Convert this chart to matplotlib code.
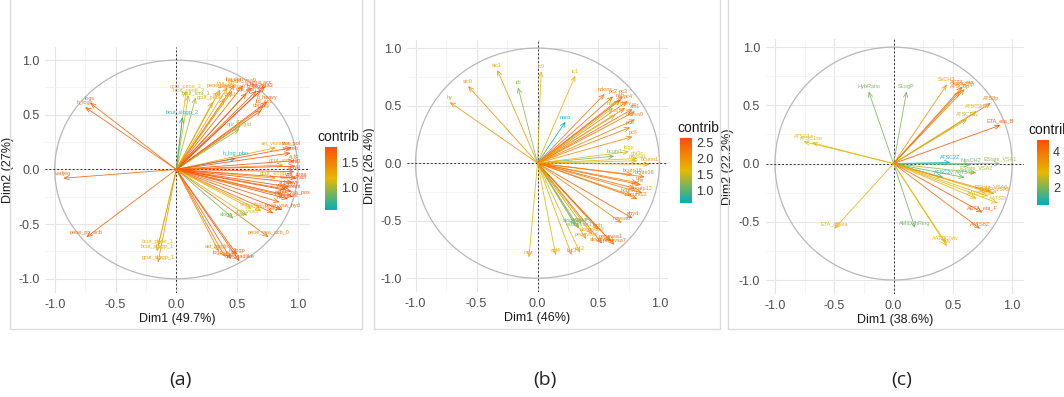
import numpy as np
import matplotlib
matplotlib.use("Agg")
import matplotlib.pyplot as plt
from matplotlib.colors import LinearSegmentedColormap, Normalize
from matplotlib.cm import ScalarMappable
from matplotlib.patches import Rectangle

plt.rcParams['font.family'] = ['Liberation Sans', 'DejaVu Sans']

# ---------------- data: panel (a) ----------------
names_a = ["gcut_peoe_2", "bcut_peoe_3", "bcut_smr_1", "bcut_slogp_2", "lip_don", "slogp_vsa9",
           "peoe_vsa6", "vsa_acc", "a_nN", "b_1rotN", "smr_vsa3", "a_acc", "vsa_don", "slogp_vsa3",
           "lip_acc", "density", "apol", "opr_brigid", "h_log_pbo", "ast_violation", "vsa_pol",
           "zagreb", "a_ic", "gcut_smr_1", "chi0", "a_nH", "gcut_slogp_3", "vsa_area", "weinerPath",
           "a_heavy", "vdw_vol", "a_count", "peoe_vsa_pos", "b_count", "chi1", "mr", "peoe_vsa_hyd",
           "weight", "bpol", "vsa_other", "slogp_vsa4", "smr_vsa5", "peoe_vsa_acb_0", "logp_o_w",
           "slogp", "h_logp", "opr_leadlike", "ast_fraglike", "bcut_peoe_1", "bcut_slogp_1",
           "gcut_slogp_1", "h_logs", "logs", "vadjeq", "peoe_pc_acb", "gcut_peoe_0", "smr_vsa1",
           "b_heavy"]
dim1_a = [0.08, 0.10, 0.16, 0.05, 0.48, 0.55, 0.36, 0.42, 0.62, 0.66, 0.70, 0.73, 0.58, 0.46,
          0.72, 0.70, 0.53, 0.52, 0.49, 0.82, 0.95, 0.94, 0.97, 0.88, 0.98, 0.97, 0.82, 0.99, 0.96,
          0.93, 0.90, 0.95, 0.96, 0.92, 0.88, 0.85, 0.87, 0.80, 0.70, 0.62, 0.47, 0.58, 0.76, 0.40,
          0.45, 0.50, 0.52, 0.35, -0.15, -0.16, -0.15, -0.75, -0.71, -0.93, -0.74, 0.30, 0.40, 0.75]
dim2_a = [0.72, 0.68, 0.66, 0.48, 0.78, 0.77, 0.73, 0.75, 0.75, 0.72, 0.73, 0.76, 0.70, 0.72,
          0.58, 0.54, 0.40, 0.37, 0.10, 0.20, 0.20, 0.15, 0.08, 0.04, 0.03, -0.02, -0.08, -0.08,
          -0.12, -0.16, -0.18, -0.20, -0.25, -0.27, -0.24, -0.30, -0.37, -0.40, -0.38, -0.36, -0.45,
          -0.42, -0.62, -0.80, -0.82, -0.78, -0.84, -0.75, -0.70, -0.75, -0.85, 0.57, 0.61, -0.08,
          -0.62, 0.62, 0.65, 0.62]
contrib_a = [1.2, 1.1, 1.0, 0.6, 1.6, 1.7, 1.4, 1.3, 1.8, 1.8, 1.8, 1.9, 1.7, 1.5, 1.7, 1.7,
             1.0, 1.0, 0.6, 1.3, 1.8, 1.8, 1.8, 1.4, 1.9, 1.9, 1.3, 1.9, 1.8, 1.9, 1.7, 1.8, 1.9,
             1.8, 1.6, 1.7, 1.8, 1.7, 1.3, 1.2, 0.9, 1.1, 1.6, 1.6, 1.7, 1.7, 1.8, 1.5, 1.2, 1.3,
             1.4, 1.7, 1.7, 1.7, 1.7, 1.3, 1.4, 1.8]

# ---------------- data: panel (b) ----------------
names_b = ["hy", "sic0", "sic1", "idi", "ic0", "ic1", "naro", "ndonr", "pc2", "pc3", "nsb", "pc4",
           "naccr", "nhev", "w", "zm1", "ncarb", "mrvsa9", "pc5", "pc6", "bcutv1", "chi3c", "bcutm1",
           "logp", "bcutp16", "bcute16", "ui", "mr", "pol", "bcutm12", "bcutv12", "bcutp12", "nhyd",
           "mrvsa6", "slogpvsa7", "estatevsa3", "mrvsa4", "slogpvsa1", "peoevsa1", "peoevsa7",
           "cic3", "bic3", "cic4", "mpc", "slogpvsa2", "tsch", "peoevsa6", "mrvsa1"]
dim1_b = [-0.72, -0.57, -0.33, -0.16, 0.03, 0.31, 0.23, 0.55, 0.62, 0.70, 0.68, 0.74, 0.62, 0.72,
          0.78, 0.80, 0.64, 0.80, 0.76, 0.78, 0.63, 0.82, 0.92, 0.75, 0.78, 0.88, 0.82, 0.85, 0.80,
          0.77, 0.82, 0.86, 0.78, 0.69, 0.31, 0.34, 0.36, 0.53, 0.60, 0.63, 0.35, 0.28, 0.15, -0.07,
          0.45, 0.50, 0.40, 0.82]
dim2_b = [0.53, 0.67, 0.81, 0.66, 0.80, 0.76, 0.36, 0.60, 0.58, 0.58, 0.55, 0.54, 0.48, 0.48,
          0.47, 0.45, 0.42, 0.38, 0.31, 0.23, 0.06, 0.04, -0.01, 0.10, -0.10, -0.12, -0.17, -0.19,
          -0.22, -0.28, -0.31, -0.26, -0.48, -0.52, -0.54, -0.57, -0.53, -0.70, -0.68, -0.71, -0.78,
          -0.80, -0.80, -0.82, -0.62, -0.58, -0.66, 0.02]
contrib_b = [2.0, 2.0, 1.9, 1.2, 1.7, 1.7, 0.6, 2.3, 2.4, 2.4, 2.5, 2.3, 1.5, 2.2, 2.4, 2.3, 1.6,
             2.2, 2.2, 2.1, 1.1, 1.6, 2.0, 1.6, 2.2, 2.3, 2.2, 2.3, 2.4, 2.2, 2.3, 2.2, 2.5, 2.1,
             1.0, 1.1, 1.2, 2.4, 2.5, 2.4, 1.7, 1.8, 1.7, 1.7, 1.9, 2.2, 1.8, 1.7]

# ---------------- data: panel (c) ----------------
names_c = ["HybRatio", "SLogP", "ATSC1z", "ATSC1se", "ETA_dBeta", "AETA_eta", "SsCH3", "ATSC8p",
           "ATSC6p", "ATS8p", "ATSC1dv", "ETA_eta_B", "ATSC3dv", "ATSC2Z", "NssCH2", "EState_VSA1",
           "EState_VSA2", "AATS3p", "ATSC2v", "EState_VSA6", "SlogP_VSA5", "AATS3i", "AATS3r",
           "AATS2i", "AETA_eta_F", "AATS8Z", "AMID_hRing", "AATSC0dv", "Mv"]
dim1_c = [-0.21, 0.11, -0.76, -0.69, -0.50, 0.58, 0.45, 0.60, 0.56, 0.82, 0.62, 0.90, 0.70, 0.48,
          0.65, 0.90, 0.70, 0.60, 0.42, 0.82, 0.85, 0.80, 0.70, 0.88, 0.75, 0.73, 0.18, 0.44, 0.45]
dim2_c = [0.62, 0.62, 0.19, 0.18, -0.56, 0.66, 0.68, 0.64, 0.62, 0.52, 0.38, 0.33, 0.45, 0.01,
          -0.01, 0.00, -0.08, -0.12, -0.12, -0.24, -0.26, -0.28, -0.30, -0.34, -0.42, -0.56, -0.55,
          -0.68, -0.71]
contrib_c = [2.0, 2.0, 2.8, 2.8, 3.0, 4.3, 3.5, 3.8, 4.1, 4.0, 2.5, 4.6, 3.0, 1.1, 1.8, 2.2, 2.3,
             1.8, 1.3, 3.5, 3.3, 3.0, 3.0, 2.8, 4.4, 4.2, 1.9, 2.9, 2.9]

panel_tags = ["(a)", "(b)", "(c)"]
dim1_titles = ["Dim1 (49.7%)", "Dim1 (46%)", "Dim1 (38.6%)"]
dim2_titles = ["Dim2 (27%)", "Dim2 (26.4%)", "Dim2 (22.2%)"]
cbar_ticks = [[1.0, 1.5], [1.0, 1.5, 2.0, 2.5], [2, 3, 4]]
cbar_ranges = [(0.55, 1.82), (0.6, 2.65), (1.05, 4.65)]

# ---------------- layout (pixels) ----------------
W, H = 1064, 397
fig = plt.figure(figsize=(W / 100, H / 100), dpi=100)
fig.patch.set_facecolor("white")

def rect(l, t, r, b):
    return [l / W, 1 - b / H, (r - l) / W, (b - t) / H]

ax_boxes = [rect(45, 47, 310, 293), rect(407, 40, 668, 292), rect(765.5, 39, 1024, 294)]
xlims = [(-1.08, 1.1), (-1.07, 1.07), (-1.08, 1.1)]
ylims = [(-1.13, 1.12), (-1.12, 1.07), (-1.12, 1.07)]
cb_boxes = [rect(325, 147, 337, 210), rect(680, 138, 692, 203), rect(1037, 140, 1049, 205)]
cb_title_xy = [(317, 137), (677, 128), (1028, 130)]
ylabel_x = [17, 378, 733]
tag_x = [180, 545, 902]
frames = [(10, 362), (374, 720), (728, 1070)]

cmap = LinearSegmentedColormap.from_list("fviz", ["#00AFBB", "#E7B800", "#FC4E07"])

# panel frames
for (l, r) in frames:
    fig.add_artist(Rectangle((l / W, 1 - 329 / H), (r - l) / W, 340 / H,
                             transform=fig.transFigure, fill=False,
                             edgecolor="#DADADA", lw=1.0))

datasets = [(names_a, dim1_a, dim2_a, contrib_a),
            (names_b, dim1_b, dim2_b, contrib_b),
            (names_c, dim1_c, dim2_c, contrib_c)]

theta = np.linspace(0, 2 * np.pi, 400)
for i, (names, d1, d2, ctb) in enumerate(datasets):
    ax = fig.add_axes(ax_boxes[i])
    ax.set_xlim(*xlims[i])
    ax.set_ylim(*ylims[i])
    ax.set_xticks([-1.0, -0.5, 0.0, 0.5, 1.0])
    ax.set_yticks([-1.0, -0.5, 0.0, 0.5, 1.0])
    ax.set_xticks([-0.75, -0.25, 0.25, 0.75], minor=True)
    ax.set_yticks([-0.75, -0.25, 0.25, 0.75], minor=True)
    ax.set_xticklabels(["-1.0", "-0.5", "0.0", "0.5", "1.0"])
    ax.set_yticklabels(["-1.0", "-0.5", "0.0", "0.5", "1.0"])
    ax.grid(which="major", color="#E6E6E6", lw=0.8)
    ax.grid(which="minor", color="#F2F2F2", lw=0.5)
    ax.set_axisbelow(True)
    for s in ax.spines.values():
        s.set_visible(False)
    ax.tick_params(which="both", length=0, labelsize=9, labelcolor="#4D4D4D", pad=4)
    ax.set_xlabel(dim1_titles[i], fontsize=9, color="#1A1A1A", labelpad=2)
    ax.set_ylabel(dim2_titles[i], fontsize=9, color="#1A1A1A", labelpad=3)

    ax.plot(np.cos(theta), np.sin(theta), color="#B8B8B8", lw=0.9, zorder=1)
    ax.axhline(0, color="#333333", lw=0.7, ls=(0, (2, 2)), zorder=2)
    ax.axvline(0, color="#333333", lw=0.7, ls=(0, (2, 2)), zorder=2)

    vmin, vmax = cbar_ranges[i]
    norm = Normalize(vmin=vmin, vmax=vmax)
    for n, x, y, c in zip(names, d1, d2, ctb):
        col = cmap(norm(c))
        ax.annotate("", xy=(x, y), xytext=(0, 0),
                    arrowprops=dict(arrowstyle="->,head_length=0.35,head_width=0.15",
                                    color=col, lw=0.6, shrinkA=0, shrinkB=0,
                                    alpha=0.9),
                    zorder=3)
        ax.annotate(n, xy=(x, y), xytext=(0, 1.5), textcoords="offset points",
                    ha="center", va="bottom", fontsize=4, color=col, alpha=0.9, zorder=4)

    # colourbar legend
    cax = fig.add_axes(cb_boxes[i])
    cb = fig.colorbar(ScalarMappable(norm=norm, cmap=cmap), cax=cax, ticks=cbar_ticks[i])
    cb.outline.set_visible(False)
    cax.tick_params(length=0, labelsize=9, labelcolor="#333333", pad=3)
    if i == 2:
        cax.set_yticklabels([str(t) for t in cbar_ticks[i]])
    else:
        cax.set_yticklabels([f"{t:.1f}" for t in cbar_ticks[i]])
    tx, ty = cb_title_xy[i]
    fig.text(tx / W, 1 - ty / H, "contrib", fontsize=10, color="#1A1A1A",
             ha="left", va="center")

    fig.text(tag_x[i] / W, 1 - 380 / H, panel_tags[i], fontsize=14, color="#222222",
             ha="center", va="center", family=["Open Sans", "DejaVu Sans"])

fig.savefig("out.png", dpi=100, facecolor="white")
